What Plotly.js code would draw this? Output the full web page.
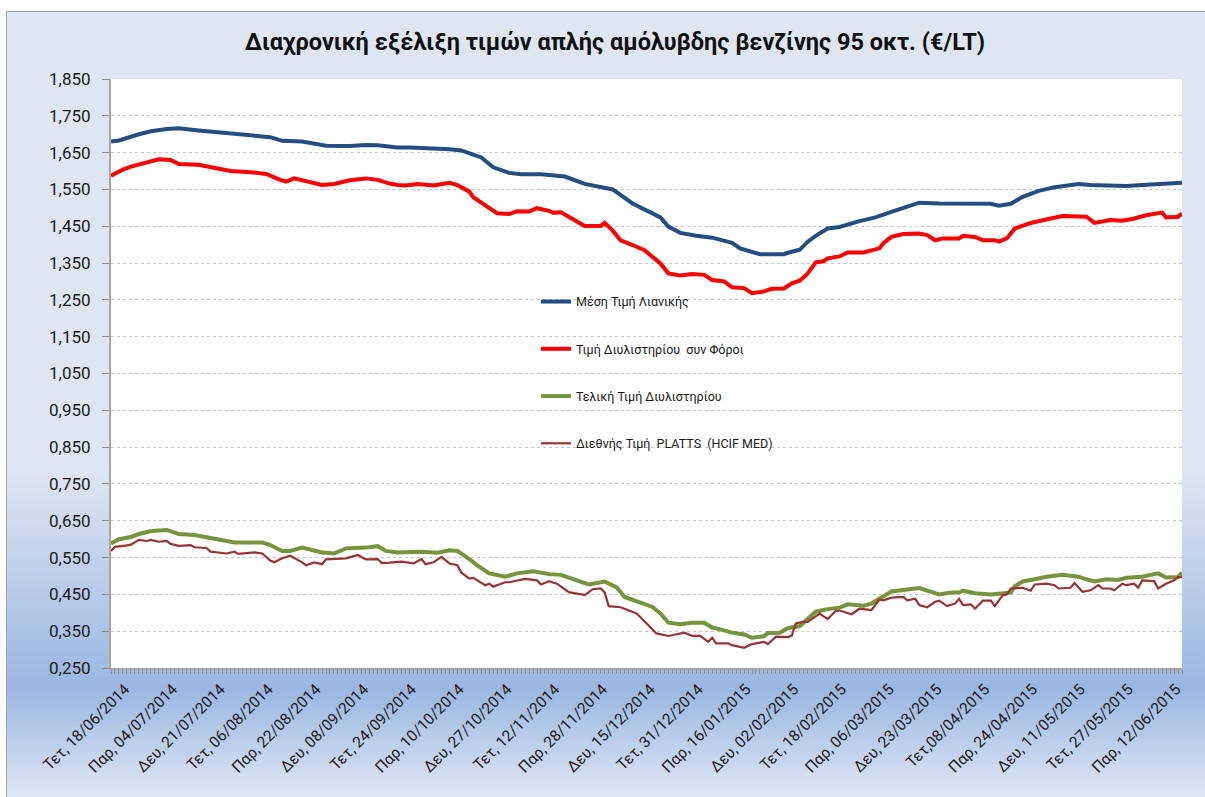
<!DOCTYPE html>
<html><head><meta charset="utf-8">
<script src="https://cdn.plot.ly/plotly-3.0.1.min.js"></script>
<style>
html,body{margin:0;padding:0;background:#fff;width:1205px;height:797px;overflow:hidden;}
#frame{position:absolute;left:6px;top:11px;width:1199px;height:786px;border-left:1px solid #a6a6a6;border-top:1px solid #a6a6a6;
background:linear-gradient(to bottom,#dfe6f2 0%,#dfe6f2 58%,#9bb6e1 86%,#dfe7f5 100%);}
#chart{position:absolute;left:0;top:0;width:1198px;height:785px;}
</style></head>
<body><div id="frame"><div id="chart"></div></div>
<script>
// weekday index (0 = Τετ 18/06/2014), one step per working day
const tickIndex = [0,12,24,36,48,60,72,84,96,108,120,132,144,156,168,180,192,204,216,228,240,252,264];
const tickLabels = ["Τετ, 18/06/2014","Παρ, 04/07/2014","Δευ, 21/07/2014","Τετ, 06/08/2014","Παρ, 22/08/2014",
  "Δευ, 08/09/2014","Τετ, 24/09/2014","Παρ, 10/10/2014","Δευ, 27/10/2014","Τετ, 12/11/2014","Παρ, 28/11/2014",
  "Δευ, 15/12/2014","Τετ, 31/12/2014","Παρ, 16/01/2015","Δευ, 02/02/2015","Τετ, 18/02/2015","Παρ, 06/03/2015",
  "Δευ, 23/03/2015","Τετ,08/04/2015","Παρ, 24/04/2015","Δευ, 11/05/2015","Τετ, 27/05/2015","Παρ, 12/06/2015"];

const seriesNames = ["Μέση Τιμή Λιανικής","Τιμή Διυλιστηρίου  συν Φόροι","Τελική Τιμή Διυλιστηρίου","Διεθνής Τιμή  PLATTS  (HCIF MED)"];

const retailDay = [0,2,7,10,14,17,22,28,34,40,43,48,54,60,64,67,72,75,85,88,93,96,100,103,108,113,114,119,123,126,131,135,138,140,143,147,151,156,158,163,169,170,173,175,177,180,183,188,192,196,199,203,208,212,221,223,226,229,233,237,243,246,251,255,259,263,269];
const retailPrice = [1.680,1.683,1.700,1.708,1.714,1.716,1.710,1.704,1.697,1.692,1.682,1.680,1.669,1.668,1.671,1.670,1.664,1.664,1.659,1.656,1.637,1.610,1.595,1.591,1.591,1.586,1.585,1.565,1.555,1.550,1.512,1.492,1.474,1.449,1.432,1.424,1.419,1.405,1.390,1.374,1.374,1.378,1.386,1.408,1.424,1.444,1.448,1.464,1.474,1.489,1.500,1.514,1.512,1.511,1.511,1.506,1.511,1.530,1.546,1.556,1.565,1.562,1.561,1.559,1.562,1.565,1.568];

const refTaxDay = [0,3,5,9,12,15,17,22,25,30,35,39,42,44,46,49,53,56,60,64,67,70,72,74,77,81,85,87,90,91,94,97,100,102,105,107,110,111,113,116,119,123,124,126,128,131,134,138,140,143,146,149,151,154,156,159,161,164,166,169,171,173,175,177,179,180,183,185,189,193,194,196,199,203,205,207,209,213,214,217,219,222,223,225,227,231,234,236,239,242,245,247,251,254,257,260,264,265,268,269];
const refTaxPrice = [1.587,1.604,1.612,1.625,1.632,1.630,1.619,1.617,1.610,1.600,1.597,1.592,1.578,1.571,1.580,1.573,1.562,1.565,1.575,1.580,1.576,1.566,1.562,1.561,1.565,1.561,1.568,1.562,1.544,1.529,1.508,1.485,1.483,1.491,1.490,1.499,1.492,1.487,1.488,1.471,1.451,1.451,1.459,1.438,1.412,1.399,1.385,1.349,1.322,1.316,1.320,1.318,1.304,1.300,1.284,1.282,1.268,1.273,1.280,1.281,1.295,1.302,1.322,1.352,1.355,1.363,1.368,1.379,1.379,1.390,1.404,1.421,1.429,1.430,1.426,1.412,1.417,1.417,1.424,1.421,1.412,1.412,1.408,1.417,1.444,1.459,1.465,1.471,1.478,1.476,1.476,1.459,1.467,1.465,1.471,1.480,1.487,1.474,1.476,1.484];

const refDay = [0,2,5,7,10,14,17,21,24,28,31,38,40,43,45,48,50,53,56,59,64,67,69,72,78,82,85,87,90,92,95,99,102,106,110,113,117,120,124,127,129,132,136,138,140,143,146,149,151,153,156,159,161,164,165,168,170,173,175,177,180,183,185,189,191,194,196,199,203,205,208,211,213,214,217,221,224,226,227,229,232,235,239,243,245,247,250,253,255,259,263,265,268,269];
const refPrice = [0.588,0.600,0.606,0.614,0.622,0.625,0.614,0.611,0.605,0.598,0.591,0.591,0.584,0.568,0.568,0.577,0.571,0.564,0.561,0.575,0.577,0.581,0.568,0.564,0.566,0.563,0.570,0.568,0.546,0.529,0.507,0.498,0.507,0.513,0.505,0.503,0.488,0.477,0.485,0.469,0.443,0.432,0.416,0.398,0.373,0.369,0.373,0.373,0.360,0.355,0.346,0.341,0.332,0.336,0.345,0.346,0.358,0.364,0.384,0.403,0.410,0.414,0.423,0.419,0.425,0.443,0.458,0.462,0.467,0.460,0.450,0.455,0.455,0.460,0.453,0.450,0.453,0.455,0.472,0.485,0.491,0.498,0.503,0.498,0.491,0.485,0.491,0.489,0.495,0.498,0.507,0.496,0.497,0.509];

const plattsDay = [0,1,4,5,7,9,10,12,14,15,17,20,21,24,25,29,31,32,36,38,40,41,43,45,48,49,51,53,54,59,62,64,67,68,70,73,76,78,79,81,83,85,87,88,90,91,94,95,96,99,100,104,107,108,110,112,115,119,121,123,124,125,128,132,133,135,137,140,144,146,148,150,151,152,155,156,159,161,164,165,167,170,171,172,174,175,178,180,182,183,186,188,191,193,194,196,199,200,202,203,205,207,208,210,212,213,214,216,217,219,221,222,224,225,226,229,231,232,234,235,237,238,241,242,244,246,248,249,251,252,254,255,257,258,259,262,263,265,267,268,269];
const plattsPrice = [0.568,0.579,0.583,0.585,0.598,0.595,0.598,0.593,0.595,0.587,0.582,0.584,0.578,0.576,0.566,0.561,0.566,0.560,0.564,0.561,0.542,0.537,0.548,0.555,0.537,0.529,0.537,0.532,0.545,0.548,0.557,0.545,0.546,0.535,0.536,0.539,0.534,0.546,0.532,0.537,0.552,0.534,0.529,0.509,0.493,0.495,0.475,0.479,0.471,0.483,0.483,0.492,0.488,0.477,0.486,0.479,0.456,0.448,0.464,0.466,0.455,0.418,0.415,0.398,0.388,0.366,0.344,0.337,0.346,0.337,0.337,0.321,0.332,0.317,0.317,0.312,0.305,0.315,0.321,0.315,0.335,0.334,0.338,0.371,0.376,0.375,0.398,0.383,0.405,0.406,0.396,0.411,0.407,0.436,0.434,0.441,0.443,0.434,0.438,0.421,0.415,0.430,0.433,0.418,0.425,0.438,0.421,0.423,0.411,0.433,0.433,0.418,0.448,0.450,0.466,0.468,0.460,0.477,0.477,0.479,0.475,0.466,0.468,0.481,0.457,0.461,0.475,0.466,0.466,0.461,0.479,0.475,0.479,0.468,0.488,0.486,0.466,0.479,0.488,0.497,0.497];

const FONT = "Roboto, 'Noto Sans', sans-serif";
function tr(x, y, name, color, width, grp) {
  return {x: x, y: y, name: name, type: 'scatter', mode: 'lines', legendgroup: grp,
    line: {color: color, width: width}, hoverinfo: 'skip'};
}
const traces = [
  tr(retailDay, retailPrice, seriesNames[0], '#244d84', 4, 'a'),
  tr(refTaxDay, refTaxPrice, seriesNames[1], '#ff0000', 4, 'b'),
  tr(refDay, refPrice, seriesNames[2], '#77933c', 4, 'c'),
  tr(plattsDay, plattsPrice, seriesNames[3], '#983333', 2.2, 'd')
];
const layout = {
  width: 1198, height: 785,
  margin: {l: 104, r: 23, t: 67, b: 129},
  paper_bgcolor: 'rgba(0,0,0,0)', plot_bgcolor: '#ffffff',
  separators: ',.',
  font: {family: FONT, color: '#1a1a1a'},
  title: {text: 'Διαχρονική εξέλιξη τιμών απλής αμόλυβδης βενζίνης 95 οκτ. (€/LT)',
    font: {family: FONT, size: 23.5, weight: 'bold', color: '#111'},
    xref: 'container', x: 0.5075, xanchor: 'center', yref: 'container', y: 0.962, yanchor: 'middle'},
  xaxis: {range: [0, 269], tickmode: 'array', tickvals: tickIndex, ticktext: tickLabels,
    tickangle: -45, tickfont: {size: 15.5, color: '#1a1a1a'}, ticklabelshift: 14,
    showgrid: false, zeroline: false, showline: true, linecolor: '#a6a6a6', linewidth: 2,
    ticks: 'outside', ticklen: 4, tickcolor: '#8c8c8c', tickwidth: 1,
    minor: {dtick: 1, tick0: 0, ticks: 'outside', ticklen: 4, tickcolor: '#8c8c8c', tickwidth: 1, showgrid: false}},
  yaxis: {range: [0.25, 1.85], tick0: 0.25, dtick: 0.1, tickformat: '.3f',
    tickfont: {size: 17, color: '#1a1a1a'},
    showgrid: true, gridcolor: '#c4c4c4', griddash: 'dot', gridwidth: 1,
    zeroline: false, showline: true, linecolor: '#a6a6a6', linewidth: 2,
    ticks: 'outside', ticklen: 7, tickcolor: '#8c8c8c', ticklabelstandoff: 8},
  shapes: [{type: 'rect', xref: 'paper', yref: 'paper', layer: 'between',
    x0: 0.3968, x1: 0.617, y0: 0.36, y1: 0.647, fillcolor: '#ffffff', line: {width: 0}}],
  showlegend: true,
  legend: {x: 0.3968, xanchor: 'left', y: 0.647, yanchor: 'top', bgcolor: 'rgba(0,0,0,0)',
    font: {family: FONT, size: 12.5, color: '#1a1a1a'}, tracegroupgap: 28, traceorder: 'grouped'}
};
Plotly.newPlot('chart', traces, layout, {displayModeBar: false, staticPlot: true});
</script></body></html>
